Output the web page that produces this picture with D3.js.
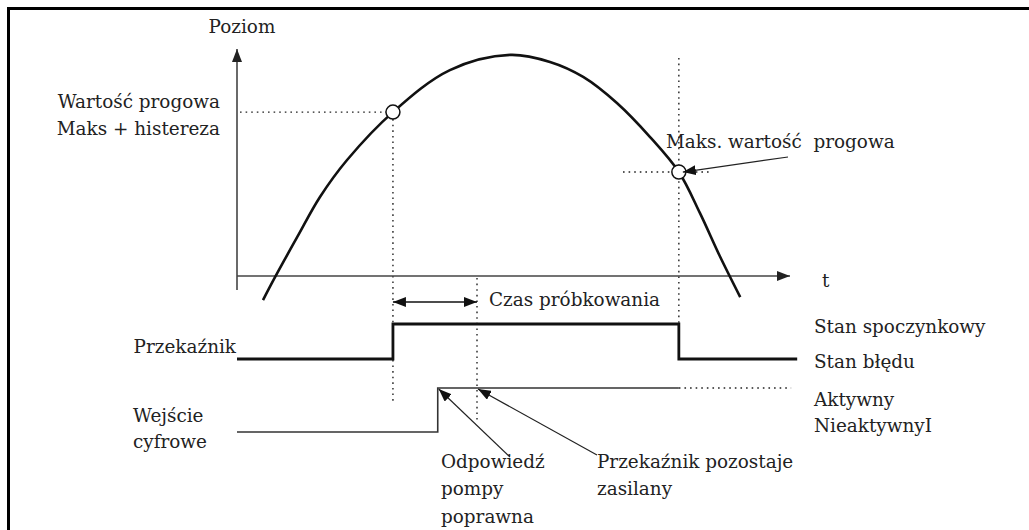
<!DOCTYPE html>
<html>
<head>
<meta charset="utf-8">
<script src="https://cdn.jsdelivr.net/npm/d3@7"></script>
<style>
  body { margin: 0; background: #fff; }
  text { font-family: "DejaVu Serif", serif; font-size: 18.4px; fill: #222; }
</style>
</head>
<body>
<script>
// level curve over time (time 0..100 along t axis, level 0..100 up the Poziom axis)
const curveT = [4.7, 6.9, 10.9, 15.0, 19.9, 28.2, 38.5, 49.4, 56.6, 62.6, 68.7, 74.7, 79.9, 83.7, 87.3, 91.0]
const curveLevel = [-10.6, -0.4, 17.2, 34.8, 51.1, 72.2, 90.7, 97.4, 94.3, 87.7, 76.2, 61.2, 45.8, 27.8, 8.8, -9.3]

// threshold crossings (hysteresis threshold, max threshold)
const markerT = [28.2, 79.9]
const markerLevel = [72.2, 45.8]
const sampleEndT = 43.4

// relay: 1 = Stan spoczynkowy, 0 = Stan błędu
const relayT = [0, 28.2, 79.9, 101.3]
const relayState = [0, 1, 0, 0]

// digital input: 1 = Aktywny, 0 = Nieaktywny
const inputT = [0, 36.3, 79.9]
const inputState = [0, 1, 1]
const inputDottedEndT = 100.2

const width = 1029, height = 530

const svg = d3.select("body").append("svg")
  .attr("width", width)
  .attr("height", height)

const x = d3.scaleLinear().domain([0, 100]).range([237, 790])
const y = d3.scaleLinear().domain([0, 100]).range([276, 49])
const relayY = d3.scaleLinear().domain([0, 1]).range([359, 324])
const inputY = d3.scaleLinear().domain([0, 1]).range([432, 388])

const defs = svg.append("defs")
function arrowMarker(id, len, w, color, orient) {
  defs.append("marker")
    .attr("id", id)
    .attr("viewBox", `0 ${-w / 2} ${len} ${w}`)
    .attr("refX", len).attr("refY", 0)
    .attr("markerUnits", "userSpaceOnUse")
    .attr("markerWidth", len).attr("markerHeight", w)
    .attr("orient", orient || "auto")
    .append("path")
    .attr("d", `M0,${-w / 2}L${len},0L0,${w / 2}Z`)
    .attr("fill", color)
}
arrowMarker("axisHead", 13, 10, "#222")
arrowMarker("head", 13, 10, "#111")
arrowMarker("headStart", 13, 10, "#111", "auto-start-reverse")

// frame
svg.append("path")
  .attr("d", "M8.5,530V8.5H1029")
  .attr("fill", "none")
  .attr("stroke", "#000")
  .attr("stroke-width", 3)

const dotted = { stroke: "#222", "stroke-width": 1.4, "stroke-dasharray": "1.6,4" }
function dotLine(x1, y1, x2, y2) {
  const l = svg.append("line").attr("x1", x1).attr("y1", y1).attr("x2", x2).attr("y2", y2)
  Object.entries(dotted).forEach(([k, v]) => l.attr(k, v))
  return l
}

// guides
dotLine(x(0) + 3, y(markerLevel[0]), x(markerT[0]) - 7, y(markerLevel[0]))
dotLine(x(markerT[0]), y(markerLevel[0]) + 7, x(markerT[0]), 403)
dotLine(x(sampleEndT), y(0) + 2, x(sampleEndT), 420)
dotLine(x(markerT[1]), 58, x(markerT[1]), relayY(1))
dotLine(623, y(markerLevel[1]), 710, y(markerLevel[1]))

// axes
svg.append("line")
  .attr("x1", x(0)).attr("y1", 290).attr("x2", x(0)).attr("y2", y(100))
  .attr("stroke", "#444").attr("stroke-width", 1.6)
  .attr("marker-end", "url(#axisHead)")
svg.append("line")
  .attr("x1", x(0)).attr("y1", y(0)).attr("x2", x(100)).attr("y2", y(0))
  .attr("stroke", "#444").attr("stroke-width", 1.6)
  .attr("marker-end", "url(#axisHead)")

// level curve
const pts = curveT.map((t, i) => [x(t), y(curveLevel[i])])
svg.append("path")
  .attr("d", d3.line().curve(d3.curveCatmullRom.alpha(0.5))(pts))
  .attr("fill", "none")
  .attr("stroke", "#111")
  .attr("stroke-width", 2.6)

// threshold markers
svg.selectAll("circle.marker")
  .data(markerT)
  .join("circle")
  .attr("class", "marker")
  .attr("cx", d => x(d))
  .attr("cy", (d, i) => y(markerLevel[i]))
  .attr("r", 7)
  .attr("fill", "#fff")
  .attr("stroke", "#111")
  .attr("stroke-width", 1.5)

// sampling time double arrow
svg.append("line")
  .attr("x1", x(markerT[0])).attr("y1", 302)
  .attr("x2", x(sampleEndT)).attr("y2", 302)
  .attr("stroke", "#111").attr("stroke-width", 1.5)
  .attr("marker-start", "url(#headStart)")
  .attr("marker-end", "url(#head)")

// relay signal
svg.append("path")
  .attr("d", d3.line().curve(d3.curveStepAfter)(relayT.map((t, i) => [x(t), relayY(relayState[i])])))
  .attr("fill", "none")
  .attr("stroke", "#111")
  .attr("stroke-width", 2.8)

// digital input signal
svg.append("path")
  .attr("d", d3.line().curve(d3.curveStepAfter)(inputT.map((t, i) => [x(t), inputY(inputState[i])])))
  .attr("fill", "none")
  .attr("stroke", "#333")
  .attr("stroke-width", 1.6)
dotLine(x(inputT[2]), inputY(1), x(inputDottedEndT), inputY(1))

// annotation arrows
function pointer(x1, y1, x2, y2) {
  svg.append("line")
    .attr("x1", x1).attr("y1", y1).attr("x2", x2).attr("y2", y2)
    .attr("stroke", "#222").attr("stroke-width", 1.2)
    .attr("marker-end", "url(#head)")
}
pointer(788, 157, x(markerT[1]) + 4, y(markerLevel[1]))
pointer(510, 457, x(inputT[1]) + 1, inputY(1) + 1)
pointer(597, 455, x(sampleEndT) + 1, inputY(1) + 1)

// texts
function label(str, tx, ty, anchor) {
  svg.append("text")
    .attr("x", tx).attr("y", ty)
    .attr("text-anchor", anchor || "start")
    .text(str)
}
label("Poziom", 242, 33, "middle")
label("Wartość progowa", 220, 108, "end")
label("Maks + histereza", 220, 135, "end")
label("Maks. wartość\u00a0 progowa", 666, 148)
label("t", 822, 287)
label("Czas próbkowania", 489, 306)
label("Przekaźnik", 236, 353, "end")
label("Wejście", 133, 422)
label("cyfrowe", 133, 448)
label("Stan spoczynkowy", 814, 333)
label("Stan błędu", 814, 368)
label("Aktywny", 814, 406)
label("NieaktywnyI", 814, 432)
label("Odpowiedź", 441, 468)
label("pompy", 441, 495)
label("poprawna", 441, 523)
label("Przekaźnik pozostaje", 597, 468)
label("zasilany", 597, 495)
</script>
</body>
</html>
